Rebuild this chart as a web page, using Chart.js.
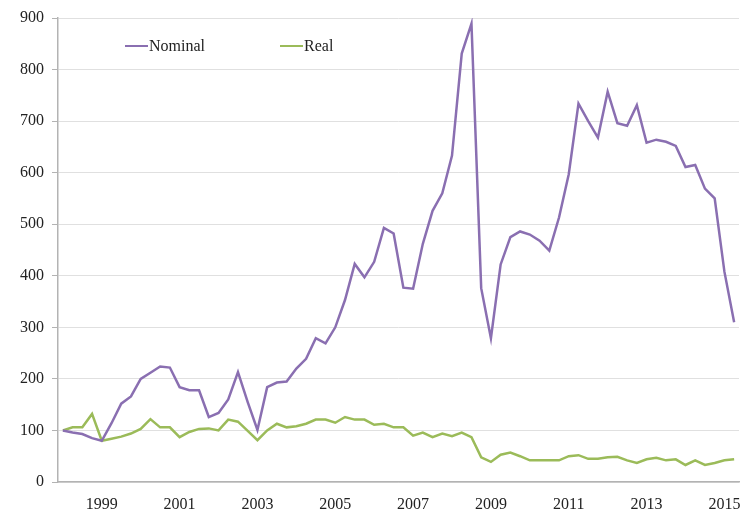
<!DOCTYPE html>
<html>
<head>
<meta charset="utf-8">
<script src="https://cdn.jsdelivr.net/npm/chart.js@4/dist/chart.umd.min.js"></script>
<style>
  html, body { margin: 0; padding: 0; background: #fff; }
  .wrap { position: relative; width: 742px; height: 510px; }
  .legend { position: absolute; top: 37px; left: 125px; font: 16px "Liberation Serif", serif; color: #222; }
  .legend span.item { position: absolute; white-space: nowrap; display: flex; align-items: center; }
  .legend i { display: inline-block; width: 23px; height: 2.5px; margin-right: 1px; }
</style>
</head>
<body>
<div class="wrap">
  <canvas id="priceChart" width="742" height="510"></canvas>
  <div class="legend">
    <span class="item" style="left:0"><i style="background:#8a6fb1"></i>Nominal</span>
    <span class="item" style="left:155px"><i style="background:#9bbb59"></i>Real</span>
  </div>
</div>
<script>
// quarterly index, 1998 Q1 = 100
const years = [1998, 1999, 2000, 2001, 2002, 2003, 2004, 2005, 2006,
  2007, 2008, 2009, 2010, 2011, 2012, 2013, 2014, 2015];
const quarterNames = ["Q1", "Q2", "Q3", "Q4"];
const yearTicks = ["1999", "2001", "2003", "2005", "2007", "2009", "2011", "2013", "2015"];

const nominal = [
  100, 96, 93, 85, 80, 114, 152, 166, 200, 212,
  224, 222, 184, 178, 178, 126, 134, 160, 213, 155,
  101, 184, 193, 195, 220, 239, 279, 269, 300, 353,
  423, 397, 427, 493, 482, 377, 375, 462, 526, 560,
  633, 831, 889, 376, 279, 422, 475, 486, 480, 468,
  449, 513, 597, 734, 700, 668, 757, 696, 691, 731,
  658, 664, 660, 652, 611, 615, 569, 550, 408, 310
];
const real = [
  100, 106, 106, 132, 80, 84, 88, 94, 103, 122,
  106, 106, 87, 97, 103, 104, 100, 121, 117, 99,
  81, 100, 113, 106, 108, 113, 121, 121, 115, 126,
  121, 121, 111, 113, 106, 106, 90, 96, 87, 94,
  89, 96, 87, 48, 39, 53, 57, 50, 42, 42,
  42, 42, 50, 52, 45, 45, 48, 49, 42, 37,
  44, 47, 42, 44, 33, 42, 33, 37, 42, 44
];

const labels = years
  .flatMap(y => quarterNames.map(q => y + " " + q))
  .slice(0, nominal.length);

const serif = { family: "'Liberation Serif', serif", size: 16 };

new Chart(document.getElementById("priceChart"), {
  type: "line",
  data: {
    labels: labels,
    datasets: [
      { label: "Nominal", data: nominal, borderColor: "#8a6fb1", borderWidth: 2.5, pointRadius: 0, tension: 0 },
      { label: "Real", data: real, borderColor: "#9bbb59", borderWidth: 2.5, pointRadius: 0, tension: 0 },
    ],
  },
  options: {
    responsive: false,
    animation: false,
    layout: { padding: { top: 18, right: 3, left: 0, bottom: 0 } },
    plugins: { legend: { display: false }, tooltip: { enabled: false } },
    scales: {
      x: {
        offset: true,
        grid: { display: false },
        border: { color: "#b3b3b3", width: 1.5 },
        ticks: {
          autoSkip: false,
          maxRotation: 0,
          padding: 5,
          color: "#222",
          font: serif,
          callback: function (value) {
            const [y, q] = this.getLabelForValue(value).split(" ");
            return q === "Q1" && yearTicks.includes(y) ? y : "";
          },
        },
        afterFit: s => { s.height = 28; },
      },
      y: {
        min: 0,
        max: 900,
        ticks: { stepSize: 100, padding: 8, color: "#222", font: serif },
        grid: { color: "#e0e0e0", tickColor: "#b3b3b3", tickLength: 6, lineWidth: 1 },
        border: { color: "#b3b3b3", width: 1.5 },
        afterFit: s => { s.width = 58; },
      },
    },
  },
});
</script>
</body>
</html>
